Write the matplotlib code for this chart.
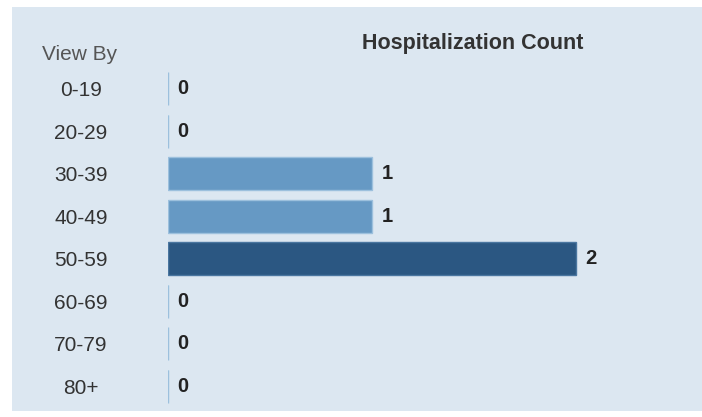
import matplotlib
matplotlib.use("Agg")
import matplotlib.pyplot as plt
from matplotlib.patches import Rectangle

categories = ["0-19", "20-29", "30-39", "40-49", "50-59", "60-69", "70-79", "80+"]
values = [0, 0, 1, 1, 2, 0, 0, 0]
title = "Hospitalization Count"
axis_label = "View By"

W, H = 702, 417
fig = plt.figure(figsize=(W / 100, H / 100), dpi=100)
fig.patch.set_facecolor("white")
fig.patches.append(Rectangle((12 / W, 1 - 411 / H), (W - 12) / W, (411 - 7) / H,
                             transform=fig.transFigure, facecolor="#dce7f1",
                             edgecolor="none", zorder=-10))

plt.rcParams["font.family"] = ["Liberation Sans", "DejaVu Sans"]

x0_px = 167.5
unit_px = 204.0
row0_px = 88.7
step_px = 42.5
n = len(categories)
top_px = row0_px - step_px / 2
bot_px = row0_px + step_px * (n - 0.5)
ax = fig.add_axes([x0_px / W, 1 - bot_px / H, (W - x0_px) / W, (bot_px - top_px) / H])
ax.set_facecolor("none")
ax.set_xlim(0, (W - x0_px) / unit_px)
ax.set_ylim(n - 0.5, -0.5)
for s in ax.spines.values():
    s.set_visible(False)
ax.set_xticks([])
ax.set_yticks(range(n))
ax.set_yticklabels(categories, fontsize=15, color="#333333")
ax.tick_params(axis="y", length=0, pad=0)
for lab in ax.get_yticklabels():
    lab.set_horizontalalignment("center")
    lab.set_x(-(x0_px - 81) / (W - x0_px))

maxv = max(values)
colors = ["#2b5782" if v == maxv else "#6699c4" for v in values]
edges = ["#4a76a0" if v == maxv else "#9cc0dd" for v in values]
ypos = list(range(n))
ax.vlines([0] * n, [y - 0.38 for y in ypos], [y + 0.38 for y in ypos],
          colors="#c2deef", linewidth=1.5, zorder=1)
ax.barh(ypos, values, height=0.77, color=colors, edgecolor=edges, linewidth=1, zorder=2)
for y, v in zip(ypos, values):
    ax.text(v + 10 / unit_px, y, str(v), va="center", ha="left",
            fontsize=14.5, fontweight="bold", color="#222222")

fig.text(473 / W, 1 - 43 / H, title, ha="center", va="center",
         fontsize=15.5, fontweight="bold", color="#333333")
fig.text(80 / W, 1 - 55 / H, axis_label, ha="center", va="center",
         fontsize=15, color="#555555")

fig.savefig("out.png", dpi=100)
